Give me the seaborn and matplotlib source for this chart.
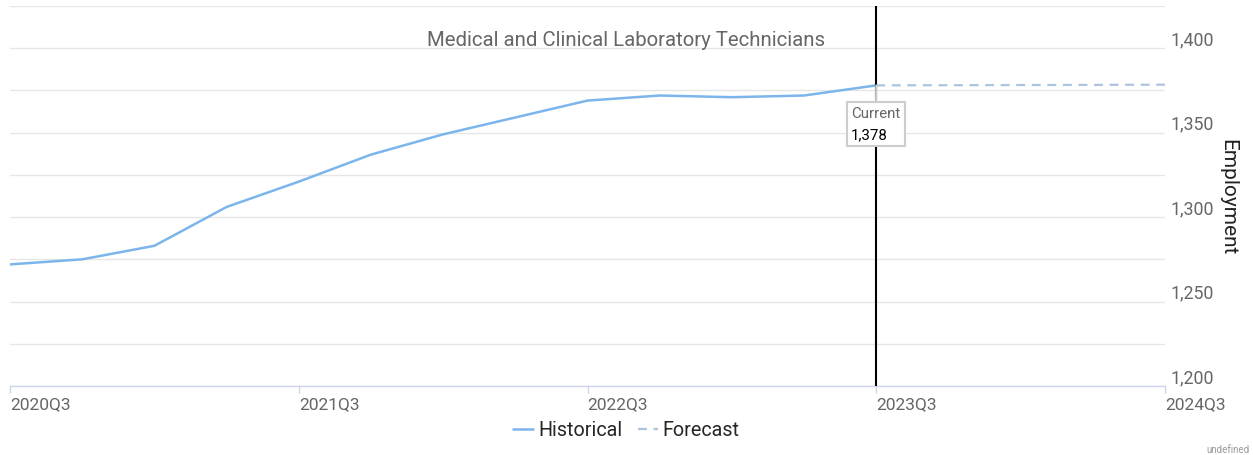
import matplotlib
matplotlib.use("Agg")
import matplotlib.pyplot as plt
from matplotlib.ticker import MultipleLocator, FuncFormatter
from matplotlib.offsetbox import TextArea, VPacker, AnnotationBbox
import pandas as pd
import seaborn as sns

# quarters on the x axis
quarters = ['2020Q3', '2020Q4', '2021Q1', '2021Q2', '2021Q3', '2021Q4',
            '2022Q1', '2022Q2', '2022Q3', '2022Q4', '2023Q1', '2023Q2',
            '2023Q3', '2023Q4', '2024Q1', '2024Q2', '2024Q3']
tick_quarters = ['2020Q3', '2021Q3', '2022Q3', '2023Q3', '2024Q3']

hist_quarters = quarters[:13]
hist_values = [1272, 1275, 1283, 1306, 1321, 1337, 1349, 1359, 1369,
               1372, 1371, 1372, 1378]

fc_quarters = quarters[12:]
fc_values = [1378, 1378.1, 1378.2, 1378.3, 1378.4]

current_quarter = '2023Q3'
current_value = 1378

title = 'Medical and Clinical Laboratory Technicians'

sns.set_theme(style="white")
plt.rcParams['font.family'] = ['Roboto', 'DejaVu Sans']

pos = {q: i for i, q in enumerate(quarters)}
hist = pd.DataFrame({'pos': [pos[q] for q in hist_quarters], 'employment': hist_values})
fc = pd.DataFrame({'pos': [pos[q] for q in fc_quarters], 'employment': fc_values})

fig = plt.figure(figsize=(12.53, 4.56), dpi=100)
ax = fig.add_axes([10 / 1253, 69 / 456, 1155 / 1253, 380 / 456])

sns.lineplot(data=hist, x='pos', y='employment', color='#7cb5ec', linewidth=1.8,
             label='Historical', ax=ax, legend=False, zorder=3)
sns.lineplot(data=fc, x='pos', y='employment', color='#adc3e0', linewidth=1.6,
             label='Forecast', ax=ax, legend=False, zorder=3)
ax.lines[1].set_dashes((4, 3))

ax.axvline(pos[current_quarter], color='black', linewidth=1.5, zorder=4)

# tooltip box
box = VPacker(children=[TextArea('Current', textprops=dict(color='#666666', size=10.8)),
                        TextArea(f'{current_value:,}', textprops=dict(color='black', size=10.8))],
              align='left', pad=0, sep=5)
ab = AnnotationBbox(box, (pos[current_quarter], current_value), xybox=(-25, -21),
                    xycoords='data', boxcoords='offset pixels', box_alignment=(0, 1),
                    pad=0.3, bboxprops=dict(ec='#cccccc', fc='white', lw=1.5),
                    arrowprops=dict(arrowstyle='-', color='#cccccc', lw=1.5,
                                    shrinkA=0, shrinkB=0),
                    zorder=5)
ax.add_artist(ab)

ax.set_xlim(0, len(quarters) - 1)
ax.set_ylim(1200, 1425)
ax.set_xticks([pos[q] for q in tick_quarters])
ax.set_xticklabels(tick_quarters, ha='left')
ax.tick_params(axis='x', direction='out', length=5, width=1, color='#ccd6eb',
               labelsize=12.5, labelcolor='#666666', pad=2, bottom=True)

ax.yaxis.tick_right()
ax.yaxis.set_major_locator(MultipleLocator(50))
ax.yaxis.set_minor_locator(MultipleLocator(25))
ax.yaxis.set_major_formatter(FuncFormatter(lambda v, p: f'{int(v):,}'))
ax.tick_params(axis='y', which='both', length=0, labelsize=12.8, labelcolor='#666666', pad=4)
for lab in ax.get_yticklabels():
    lab.set_verticalalignment('bottom')
ax.grid(True, axis='y', which='both', color='#e6e6e6', linewidth=1)
ax.grid(False, axis='x')
ax.set_axisbelow(True)

for side in ['top', 'left', 'right']:
    ax.spines[side].set_visible(False)
ax.spines['bottom'].set_color('#ccd6eb')
ax.spines['bottom'].set_linewidth(1)

ax.set_xlabel('')
ax.yaxis.set_label_position('right')
ax.set_ylabel('Employment', rotation=270, fontsize=15, color='#222222')
ax.yaxis.set_label_coords((1228 - 10) / 1155, 0.5)
ax.yaxis.label.set_verticalalignment('center')

fig.text(0.5, 1 - 40 / 456, title, ha='center', va='center', fontsize=14.7, color='#666666')

handles = ax.lines[:2]
fig.legend(handles, ['Historical', 'Forecast'], loc='center',
           bbox_to_anchor=(0.5, 1 - 431 / 456), ncol=2, frameon=False, fontsize=14.2,
           handlelength=1.0, handletextpad=0.25, columnspacing=0.8)

fig.text(1250 / 1253, 1 - 450 / 456, 'undefined', ha='right', va='center',
         fontsize=7, color='#999999')

fig.savefig('out.png', dpi=100)
